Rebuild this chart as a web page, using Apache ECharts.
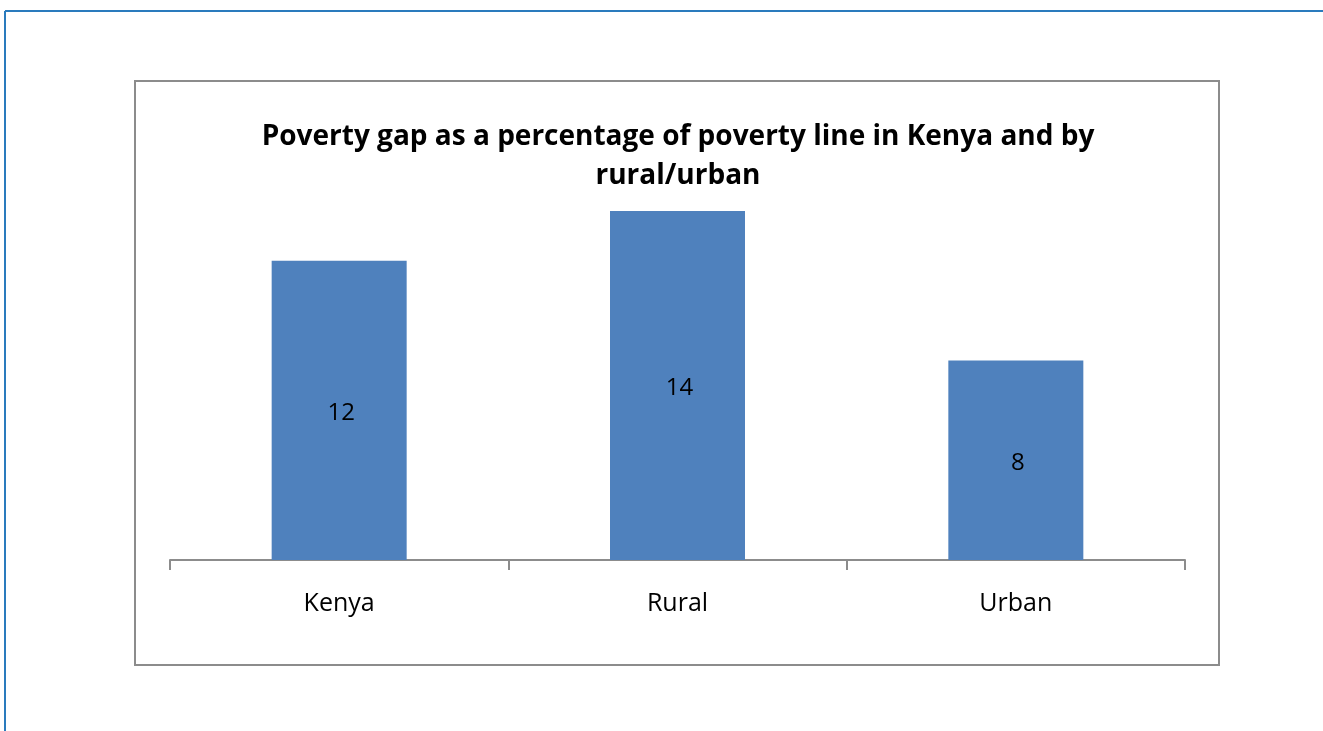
<!DOCTYPE html>
<html>
<head>
<meta charset="utf-8">
<script src="https://cdn.jsdelivr.net/npm/echarts@6/dist/echarts.min.js"></script>
<style>
  html, body { margin: 0; padding: 0; background: #fff; }
  #chart { width: 1323px; height: 731px; }
</style>
</head>
<body>
<div id="chart"></div>
<script>
// Poverty gap (% of poverty line), national and by area
const categories = ['Kenya', 'Rural', 'Urban'];
const povertyGap = [12, 14, 8];
const titleText = 'Poverty gap as a percentage of poverty line in Kenya and by\nrural/urban';

const chart = echarts.init(document.getElementById('chart'), null, { renderer: 'canvas' });

chart.setOption({
  animation: false,
  title: {
    text: titleText,
    left: 673,
    top: 113,
    textAlign: 'center',
    textStyle: {
      fontFamily: 'Open Sans',
      fontWeight: 'bold',
      fontSize: 28,
      lineHeight: 39,
      color: '#000'
    }
  },
  graphic: [
    // page edge lines
    { type: 'line', shape: { x1: 5, y1: 11, x2: 1323, y2: 11 }, style: { stroke: '#2a7bbd', lineWidth: 2 } },
    { type: 'line', shape: { x1: 5, y1: 11, x2: 5, y2: 731 }, style: { stroke: '#2a7bbd', lineWidth: 2 } },
    // chart frame
    { type: 'rect', shape: { x: 135, y: 81, width: 1084, height: 584 }, style: { fill: 'none', stroke: '#8c8c8c', lineWidth: 2 }, z: -1 }
  ],
  grid: { left: 170, right: 138, top: 161, bottom: 171 },
  xAxis: {
    type: 'category',
    data: categories,
    axisLine: { lineStyle: { color: '#8c8c8c', width: 2 } },
    axisTick: { show: true, length: 10, lineStyle: { color: '#8c8c8c', width: 2 } },
    axisLabel: { color: '#000', fontFamily: 'Open Sans', fontSize: 25, margin: 31 }
  },
  yAxis: {
    type: 'value',
    min: 0,
    max: 16,
    show: false,
    splitLine: { show: false }
  },
  series: [{
    type: 'bar',
    data: povertyGap,
    barWidth: 135,
    itemStyle: { color: '#4f81bd' },
    label: {
      show: true,
      position: 'inside',
      offset: [2, 3],
      color: '#000',
      fontFamily: 'Open Sans',
      fontSize: 24
    }
  }]
});
</script>
</body>
</html>
